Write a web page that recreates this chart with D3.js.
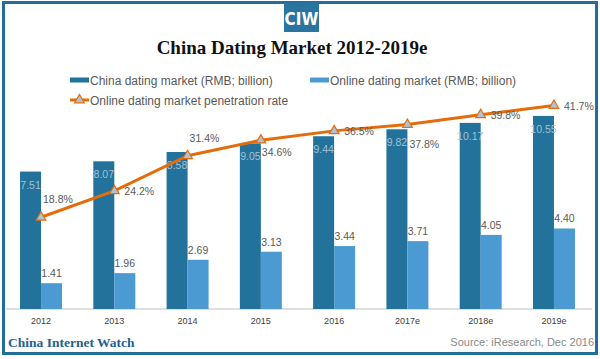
<!DOCTYPE html>
<html>
<head>
<meta charset="utf-8">
<script src="https://cdn.jsdelivr.net/npm/d3@7"></script>
<style>
  body { margin: 0; background: #fff; }
  svg { display: block; font-family: "Liberation Sans", Arial, sans-serif; }
</style>
</head>
<body>
<svg width="600" height="359"></svg>
<script>
const years = ["2012", "2013", "2014", "2015", "2016", "2017e", "2018e", "2019e"];
const datingMarket = [7.51, 8.07, 8.58, 9.05, 9.44, 9.82, 10.17, 10.55];
const onlineMarket = [1.41, 1.96, 2.69, 3.13, 3.44, 3.71, 4.05, 4.40];
const penetration = [18.8, 24.2, 31.4, 34.6, 36.5, 37.8, 39.8, 41.7];
// where each rate label sits relative to its marker
const rateLabelPos = ["upright", "right", "upright", "downright", "right", "down", "right", "right"];

const darkBlue = "#22729b";
const lightBlue = "#4b9bd2";
const orange = "#e46c0a";
const textGray = "#595959";

const width = 600, height = 359;
const baseY = 309, topY = 89.4;

const svg = d3.select("svg");

// frame
svg.append("rect")
    .attr("x", 3.5).attr("y", 2.5)
    .attr("width", 593).attr("height", 351)
    .attr("fill", "none")
    .attr("stroke", "#236f99")
    .attr("stroke-width", 3);

// CIW badge
svg.append("rect")
    .attr("x", 284).attr("y", 3)
    .attr("width", 35).attr("height", 29)
    .attr("fill", "#2a74a0");
svg.append("text")
    .attr("x", 301.5).attr("y", 25)
    .attr("text-anchor", "middle")
    .attr("font-family", "'Liberation Sans Narrow', 'DejaVu Sans Condensed', sans-serif")
    .attr("font-weight", "bold")
    .attr("font-size", 17)
    .attr("fill", "#fff")
    .text("CIW");

// title
svg.append("text")
    .attr("x", 292).attr("y", 54)
    .attr("text-anchor", "middle")
    .attr("font-family", "'Liberation Serif', serif")
    .attr("font-weight", "bold")
    .attr("font-size", 19)
    .attr("fill", "#111")
    .text("China Dating Market 2012-2019e");

// scales
const x0 = d3.scaleBand()
    .domain(years)
    .range([4.4, 590.6])
    .paddingInner(0.427)
    .paddingOuter(0.2135);

const x1 = d3.scaleBand()
    .domain(["dating", "online"])
    .range([0, x0.bandwidth()]);

const y = d3.scaleLinear().domain([0, 12]).range([baseY, topY]);
const yRate = d3.scaleLinear().domain([0, 45]).range([baseY, topY]);

const rows = years.map((yr, i) => ({
  year: yr, dating: datingMarket[i], online: onlineMarket[i],
  rate: penetration[i], pos: rateLabelPos[i]
}));

// x axis
const xAxis = d3.axisBottom(x0).tickSize(0).tickPadding(9);
const gx = svg.append("g")
    .attr("transform", `translate(0, ${baseY})`)
    .call(xAxis);
gx.select(".domain").attr("stroke", "#bfbfbf").attr("d", "M6,0H592");
gx.selectAll("text")
    .attr("font-family", "'Liberation Sans', sans-serif")
    .attr("font-size", 9)
    .attr("fill", "#404040");

// bars
const groups = svg.append("g").selectAll("g")
    .data(rows)
    .enter().append("g")
    .attr("transform", d => `translate(${x0(d.year)}, 0)`);

groups.append("rect")
    .attr("x", x1("dating"))
    .attr("y", d => y(d.dating))
    .attr("width", x1.bandwidth())
    .attr("height", d => baseY - y(d.dating))
    .attr("fill", darkBlue);

groups.append("rect")
    .attr("x", x1("online"))
    .attr("y", d => y(d.online))
    .attr("width", x1.bandwidth())
    .attr("height", d => baseY - y(d.online))
    .attr("fill", lightBlue);

groups.append("text")
    .attr("x", x1("dating") + x1.bandwidth() / 2)
    .attr("y", d => y(d.dating) + 17)
    .attr("text-anchor", "middle")
    .attr("font-size", 10.5)
    .attr("fill", "#a3c1d6")
    .text(d => d.dating.toFixed(2));

groups.append("text")
    .attr("x", x1("online") + x1.bandwidth() / 2)
    .attr("y", d => y(d.online) - 6)
    .attr("text-anchor", "middle")
    .attr("font-size", 10.5)
    .attr("fill", textGray)
    .text(d => d.online.toFixed(2));

// penetration line
const cx = d => x0(d.year) + x0.bandwidth() / 2;
const line = d3.line()
    .x(cx)
    .y(d => yRate(d.rate));

svg.append("path")
    .datum(rows)
    .attr("d", line)
    .attr("fill", "none")
    .attr("stroke", orange)
    .attr("stroke-width", 3);

const tri = d3.symbol().type(d3.symbolTriangle).size(40);

svg.append("g").selectAll("path")
    .data(rows)
    .enter().append("path")
    .attr("d", tri)
    .attr("transform", d => `translate(${cx(d)}, ${yRate(d.rate)})`)
    .attr("fill", "#a9c4dc")
    .attr("stroke", orange)
    .attr("stroke-width", 1.2);

const offsets = {
  upright: [2, -14],
  right: [10, 4],
  downright: [1, 16],
  down: [2, 23]
};

svg.append("g").selectAll("text")
    .data(rows)
    .enter().append("text")
    .attr("x", d => cx(d) + offsets[d.pos][0])
    .attr("y", d => yRate(d.rate) + offsets[d.pos][1])
    .attr("font-size", 10.5)
    .attr("fill", textGray)
    .text(d => d.rate.toFixed(1) + "%");

// legend
const legend = svg.append("g").attr("font-size", 12).attr("fill", textGray);
legend.append("rect").attr("x", 70).attr("y", 77.5).attr("width", 19).attr("height", 5).attr("fill", darkBlue);
legend.append("text").attr("x", 90).attr("y", 85).text("China dating market (RMB; billion)");
legend.append("rect").attr("x", 310).attr("y", 77.5).attr("width", 19).attr("height", 5).attr("fill", lightBlue);
legend.append("text").attr("x", 330).attr("y", 85).text("Online dating market (RMB; billion)");
legend.append("line").attr("x1", 70).attr("x2", 89).attr("y1", 100).attr("y2", 100)
    .attr("stroke", orange).attr("stroke-width", 3);
legend.append("path").attr("d", tri).attr("transform", "translate(79.5, 100)")
    .attr("fill", "#a9c4dc").attr("stroke", orange).attr("stroke-width", 1.2);
legend.append("text").attr("x", 90).attr("y", 104.5).text("Online dating market penetration rate");

// footer
svg.append("text")
    .attr("x", 8).attr("y", 347)
    .attr("font-family", "'Liberation Serif', serif")
    .attr("font-weight", "bold")
    .attr("font-size", 13.5)
    .attr("fill", "#1f618f")
    .text("China Internet Watch");

svg.append("text")
    .attr("x", 594).attr("y", 346)
    .attr("text-anchor", "end")
    .attr("font-size", 11)
    .attr("fill", "#8a8a8a")
    .text("Source: iResearch, Dec 2016");
</script>
</body>
</html>
